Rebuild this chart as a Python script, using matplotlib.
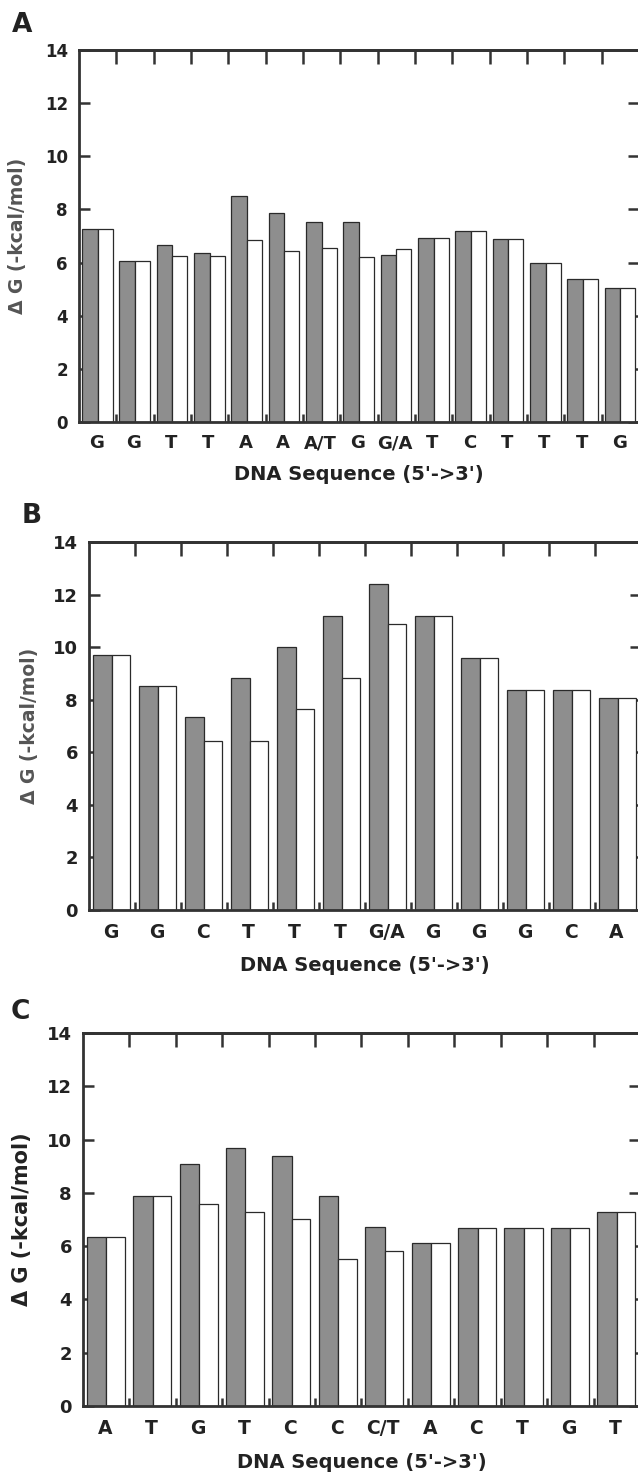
import matplotlib.pyplot as plt
import numpy as np

plt.rcParams['font.family'] = ['DejaVu Sans']
plt.rcParams['font.weight'] = 'bold'

# Panel A
seq_a = ['G', 'G', 'T', 'T', 'A', 'A', 'A/T', 'G', 'G/A', 'T', 'C', 'T', 'T', 'T', 'G']
gray_a = [7.25, 6.05, 6.65, 6.37, 8.49, 7.86, 7.54, 7.53, 6.30, 6.91, 7.19, 6.89, 5.99, 5.38, 5.06]
white_a = [7.25, 6.05, 6.24, 6.24, 6.84, 6.43, 6.53, 6.22, 6.52, 6.91, 7.19, 6.89, 5.99, 5.38, 5.06]

# Panel B
seq_b = ['G', 'G', 'C', 'T', 'T', 'T', 'G/A', 'G', 'G', 'G', 'C', 'A']
gray_b = [9.72, 8.53, 7.33, 8.82, 10.0, 11.2, 12.42, 11.18, 9.6, 8.37, 8.37, 8.05]
white_b = [9.72, 8.53, 6.44, 6.44, 7.63, 8.82, 10.88, 11.18, 9.6, 8.37, 8.37, 8.05]

# Panel C
seq_c = ['A', 'T', 'G', 'T', 'C', 'C', 'C/T', 'A', 'C', 'T', 'G', 'T']
gray_c = [6.33, 7.9, 9.08, 9.68, 9.38, 7.88, 6.71, 6.10, 6.68, 6.68, 6.68, 7.28]
white_c = [6.33, 7.9, 7.58, 7.30, 7.03, 5.51, 5.82, 6.10, 6.68, 6.68, 6.68, 7.28]

W, H = 638, 1474
fig = plt.figure(figsize=(W / 100, H / 100), dpi=100)

dark = '#333333'


def panel(box, seq, gray, white, letter, letter_xy, ytick_fs, xtick_fs, ylab_x, xlab_y,
          ylab_fs=13.5, ylab_color='#555555'):
    l, t, r, b = box
    ax = fig.add_axes([l / W, 1 - b / H, (r - l) / W, (b - t) / H])
    n = len(seq)
    k = np.arange(n)
    ax.bar(k + 0.08, gray, width=0.42, align='edge', color='#8e8e8e',
           edgecolor='#2a2a2a', linewidth=0.9, zorder=2)
    ax.bar(k + 0.50, white, width=0.40, align='edge', color='white',
           edgecolor='#2a2a2a', linewidth=0.9, zorder=2)
    ax.set_xlim(0, n)
    ax.set_ylim(0, 14)
    for s in ax.spines.values():
        s.set_color(dark)
        s.set_linewidth(2.0)
    ax.set_yticks(np.arange(0, 15, 2))
    ax.tick_params(axis='y', direction='in', length=8, width=1.8, color=dark,
                   right=True, labelsize=ytick_fs, pad=8)
    ax.set_xticks(k + 0.47)
    ax.set_xticklabels(seq)
    ax.set_xticks(np.arange(1, n), minor=True)
    ax.tick_params(axis='x', which='major', length=0, labelsize=xtick_fs, pad=9)
    ax.tick_params(axis='x', which='minor', direction='in', length=6, width=1.8,
                   color=dark, bottom=True, top=False)
    top = ax.secondary_xaxis('top')
    top.set_xticks(np.arange(1, n))
    top.tick_params(direction='in', length=10, width=1.8, color=dark,
                    labeltop=False)
    top.spines['top'].set_linewidth(2.0)
    top.spines['top'].set_color(dark)
    for lab in ax.get_xticklabels() + ax.get_yticklabels():
        lab.set_fontweight('bold')
        lab.set_color('#222222')
    ax.text(ylab_x, 0.5, u'\u0394 G (-kcal/mol)', transform=ax.transAxes,
            rotation=90, ha='center', va='center', fontsize=ylab_fs,
            fontweight='bold', color=ylab_color)
    ax.text(0.5, xlab_y, "DNA Sequence (5'->3')", transform=ax.transAxes,
            ha='center', va='center', fontsize=14, fontweight='bold',
            color='#222222')
    fig.text(letter_xy[0] / W, 1 - letter_xy[1] / H, letter, ha='center',
             va='center', fontsize=19, fontweight='bold', color='#222222')
    return ax


panel((79, 50, 639, 422), seq_a, gray_a, white_a, 'A', (22, 25), 12, 13, -0.109, -0.142)
panel((89, 542, 641, 910), seq_b, gray_b, white_b, 'B', (32, 516), 13, 13.5, -0.107, -0.152)
panel((83, 1033, 640, 1406), seq_c, gray_c, white_c, 'C', (20, 1012), 13, 13.5, -0.110, -0.152,
      ylab_fs=15, ylab_color='#222222')

fig.savefig('out.png', dpi=100)
